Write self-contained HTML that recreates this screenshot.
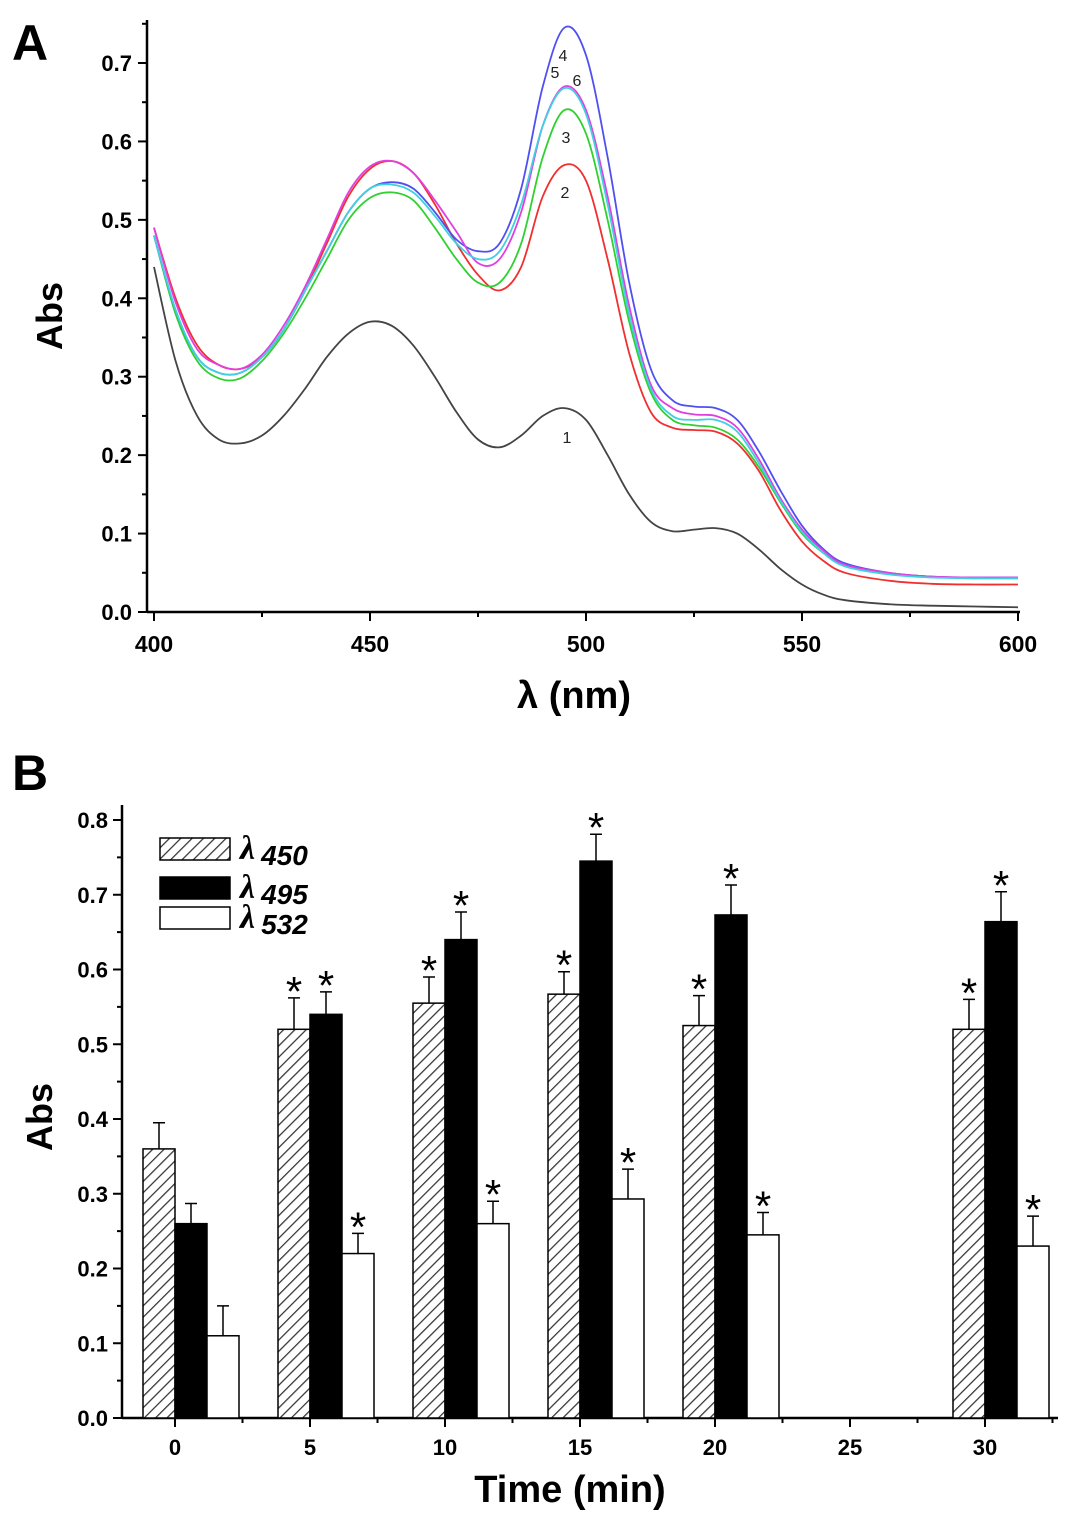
<!DOCTYPE html>
<html><head><meta charset="utf-8">
<style>
body{margin:0;background:#fff;}
svg{display:block;font-family:"Liberation Sans",Arial,sans-serif;font-weight:bold;}
</style></head>
<body>
<svg id="fig" width="1087" height="1522" viewBox="0 0 1087 1522">
<defs>
<pattern id="hatch" patternUnits="userSpaceOnUse" width="8" height="8" patternTransform="rotate(45)">
<rect width="8" height="8" fill="#fff"/><line x1="0" y1="0" x2="0" y2="8" stroke="#333" stroke-width="2.5"/>
</pattern>
</defs>
<text x="12" y="60" font-size="50">A</text>
<text x="12" y="790" font-size="50">B</text>
<g id="pa"></g>
<g id="pb"></g>
</svg>
<script>
// ===== Panel A data =====
const wl = [400,405,410,415,420,425,430,435,440,445,450,455,460,465,470,475,480,485,490,495,500,505,510,515,520,525,530,535,540,545,550,555,560,570,580,590,600];
const s1 = [0.44,0.32,0.25,0.22,0.215,0.225,0.25,0.285,0.325,0.355,0.37,0.365,0.34,0.30,0.255,0.22,0.21,0.225,0.25,0.26,0.245,0.20,0.15,0.115,0.103,0.105,0.107,0.10,0.08,0.055,0.035,0.022,0.015,0.010,0.008,0.007,0.006];
const s2 = [0.49,0.40,0.34,0.315,0.31,0.325,0.36,0.41,0.47,0.53,0.565,0.575,0.56,0.52,0.47,0.43,0.41,0.44,0.53,0.57,0.55,0.45,0.33,0.255,0.235,0.232,0.23,0.215,0.18,0.13,0.09,0.065,0.05,0.04,0.036,0.035,0.035];
const s3 = [0.48,0.38,0.32,0.298,0.298,0.32,0.355,0.40,0.45,0.50,0.528,0.535,0.525,0.49,0.45,0.42,0.42,0.47,0.58,0.64,0.61,0.50,0.37,0.28,0.245,0.238,0.235,0.22,0.185,0.14,0.10,0.075,0.06,0.05,0.045,0.043,0.043];
const s4 = [0.48,0.385,0.325,0.305,0.305,0.325,0.36,0.41,0.46,0.51,0.54,0.548,0.54,0.51,0.475,0.46,0.47,0.54,0.67,0.745,0.71,0.58,0.42,0.31,0.27,0.262,0.26,0.245,0.205,0.155,0.11,0.08,0.062,0.05,0.045,0.044,0.044];
const s5 = [0.49,0.395,0.335,0.315,0.31,0.328,0.365,0.415,0.475,0.535,0.568,0.575,0.56,0.525,0.485,0.445,0.45,0.51,0.62,0.67,0.64,0.53,0.39,0.29,0.26,0.252,0.25,0.235,0.195,0.145,0.105,0.078,0.06,0.05,0.045,0.044,0.044];
const s6 = [0.48,0.385,0.325,0.305,0.305,0.325,0.36,0.41,0.46,0.51,0.54,0.545,0.535,0.505,0.47,0.45,0.46,0.52,0.62,0.668,0.635,0.52,0.38,0.285,0.25,0.245,0.245,0.23,0.19,0.142,0.102,0.075,0.058,0.048,0.044,0.043,0.043];
const seriesA = [s1,s2,s3,s4,s5,s6];
const colorsA = ["#444","#f03030","#30d030","#5050f0","#e040e0","#40d0e0"];
const curveLabels = ["1","2","3","4","5","6"];
const xTicksA = [400,450,500,550,600];
const yTicksA = [0.0,0.1,0.2,0.3,0.4,0.5,0.6,0.7];

// ===== Panel B data =====
const times = [0,5,10,15,20,30];
const xTicksB = [0,5,10,15,20,25,30];
const yTicksB = [0.0,0.1,0.2,0.3,0.4,0.5,0.6,0.7,0.8];
const v450 = [0.36,0.52,0.555,0.567,0.525,0.52];
const v495 = [0.26,0.54,0.64,0.745,0.673,0.664];
const v532 = [0.11,0.22,0.26,0.293,0.245,0.23];
const e450 = [0.035,0.042,0.035,0.03,0.04,0.04];
const e495 = [0.027,0.03,0.037,0.036,0.04,0.04];
const e532 = [0.04,0.027,0.03,0.04,0.03,0.04];
const sig450 = [false,true,true,true,true,true];
const sig495 = [false,true,true,true,true,true];
const sig532 = [false,true,true,true,true,true];

const NS="http://www.w3.org/2000/svg";
function mk(parent,tag,attrs,text){const e=document.createElementNS(NS,tag);for(const k in attrs)e.setAttribute(k,attrs[k]);if(text!==undefined)e.textContent=text;parent.appendChild(e);return e;}
function smooth(pts){let d='M'+pts[0][0].toFixed(1)+','+pts[0][1].toFixed(1);
 for(let i=0;i<pts.length-1;i++){const p0=pts[Math.max(0,i-1)],p1=pts[i],p2=pts[i+1],p3=pts[Math.min(pts.length-1,i+2)];
  const c1=[p1[0]+(p2[0]-p0[0])/6,p1[1]+(p2[1]-p0[1])/6],c2=[p2[0]-(p3[0]-p1[0])/6,p2[1]-(p3[1]-p1[1])/6];
  d+=` C${c1[0].toFixed(1)},${c1[1].toFixed(1)} ${c2[0].toFixed(1)},${c2[1].toFixed(1)} ${p2[0].toFixed(1)},${p2[1].toFixed(1)}`;}
 return d;}

// ---- Panel A ----
const pa=document.getElementById('pa');
const xA=v=>154+(v-400)*(1018-154)/200;
const yA=v=>612-v*(612-63)/0.7;
let e;
e=mk(pa,'line',{x1:147,y1:20,x2:147,y2:612,stroke:'#000','stroke-width':2.5});

e=mk(pa,'line',{x1:147,y1:612,x2:1020,y2:612,stroke:'#000','stroke-width':2.5});

for(let v=400;v<=600;v+=25){const big=v%50===0;
 e=mk(pa,'line',{x1:xA(v),y1:612,x2:xA(v),y2:612+(big?9:5),stroke:'#000','stroke-width':2});
 }
xTicksA.forEach(v=>{e=mk(pa,'text',{x:xA(v),y:652,'font-size':23,'text-anchor':'middle'},String(v));
 });
for(let i=0;i<=15;i++){const v=i*0.05;const big=i%2===0;
 e=mk(pa,'line',{x1:147-(big?9:5),y1:yA(v),x2:147,y2:yA(v),stroke:'#000','stroke-width':2});
 }
yTicksA.forEach(v=>{e=mk(pa,'text',{x:132,y:yA(v)+8,'font-size':22,'text-anchor':'end'},v.toFixed(1));
 });
e=mk(pa,'text',{x:0,y:0,'font-size':36,'text-anchor':'middle',transform:'translate(62,316) rotate(-90)'},'Abs');

e=mk(pa,'text',{x:574,y:708,'font-size':38,'text-anchor':'middle'},'λ (nm)');

seriesA.forEach((s,i)=>{
 const pts=s.map((v,j)=>[xA(wl[j]),yA(v)]);
 e=mk(pa,'path',{d:smooth(pts),fill:'none',stroke:colorsA[i],'stroke-width':1.8,'stroke-linejoin':'round'});
 
});
const lblPos=[[567,443],[565,198],[566,143],[563,61],[555,78],[577,86]];
curveLabels.forEach((t,i)=>{e=mk(pa,'text',{x:lblPos[i][0],y:lblPos[i][1],'font-size':16,'font-weight':'normal','text-anchor':'middle',fill:'#222'},t);
 });

// ---- Panel B ----
const pb=document.getElementById('pb');
const xB=t=>175+t*(985-175)/30;
const yB=v=>1418-v*(1418-820)/0.8;
const bw=32;
e=mk(pb,'line',{x1:122,y1:805,x2:122,y2:1418,stroke:'#000','stroke-width':2.5});

e=mk(pb,'line',{x1:122,y1:1418,x2:1058,y2:1418,stroke:'#000','stroke-width':2.5});

for(let i=-1;i<=13;i++){const t=i*2.5;const big=i%2===0;const x=xB(t);if(x<122)continue;
 e=mk(pb,'line',{x1:x,y1:1418,x2:x,y2:1418+(big?9:5),stroke:'#000','stroke-width':2});
 }
xTicksB.forEach(t=>{e=mk(pb,'text',{x:xB(t),y:1455,'font-size':22,'text-anchor':'middle'},String(t));
 });
for(let i=0;i<=16;i++){const v=i*0.05;const big=i%2===0;
 e=mk(pb,'line',{x1:122-(big?9:5),y1:yB(v),x2:122,y2:yB(v),stroke:'#000','stroke-width':2});
 }
yTicksB.forEach(v=>{e=mk(pb,'text',{x:108,y:yB(v)+8,'font-size':22,'text-anchor':'end'},v.toFixed(1));
 });
e=mk(pb,'text',{x:0,y:0,'font-size':36,'text-anchor':'middle',transform:'translate(52,1117) rotate(-90)'},'Abs');

e=mk(pb,'text',{x:570,y:1502,'font-size':38,'text-anchor':'middle'},'Time (min)');


const groups=[[v450,e450,sig450,'url(#hatch)',-16,'450'],[v495,e495,sig495,'#000',16,'495'],[v532,e532,sig532,'#fff',48,'532']];
groups.forEach(g=>{
 times.forEach((t,i)=>{
  const cx=xB(t)+g[4];const top=yB(g[0][i]);
  e=mk(pb,'rect',{x:cx-bw/2,y:top,width:bw,height:1418-top,fill:g[3],stroke:'#000','stroke-width':1.5});
  
  const et=yB(g[0][i]+g[1][i]);
  e=mk(pb,'path',{d:`M${cx},${top} L${cx},${et} M${cx-6},${et} L${cx+6},${et}`,stroke:'#000','stroke-width':1.5,fill:'none'});
  
  if(g[2][i]){e=mk(pb,'text',{x:cx,y:et+8,'font-size':42,'font-weight':'normal','text-anchor':'middle'},'*');
   }
 });
});
// legend
const leg=[['url(#hatch)','450',849],['#000','495',888],['#fff','532',918]];
leg.forEach(l=>{
 e=mk(pb,'rect',{x:160,y:l[2]-11,width:70,height:22,fill:l[0],stroke:'#000','stroke-width':1.5});
 
 const tx=mk(pb,'text',{x:240,y:l[2]+10,'font-size':28,'font-style':'italic'});
 
 mk(tx,'tspan',{'font-family':'"Liberation Serif",serif','font-size':34},'λ');
 mk(tx,'tspan',{dx:6,dy:6},l[1]);
});
</script>
</body></html>
